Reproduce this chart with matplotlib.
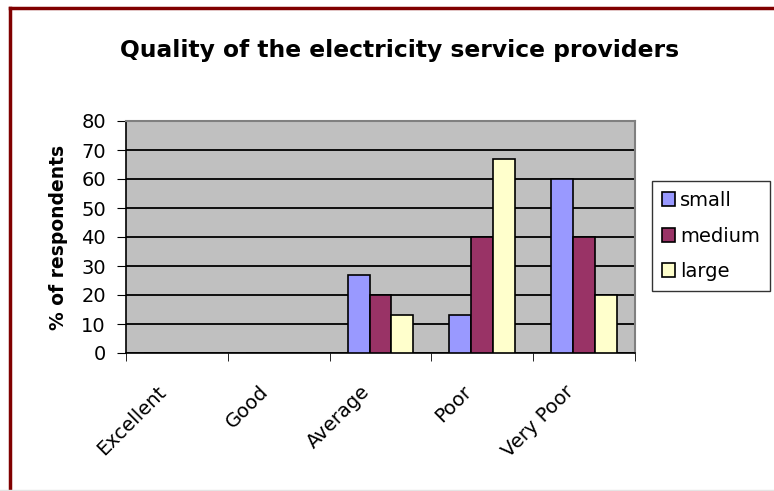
import numpy as np
import matplotlib.pyplot as plt
import matplotlib.transforms as mtransforms
from matplotlib.lines import Line2D

plt.rcParams['font.family'] = ['DejaVu Sans']

# Survey results (% of respondents)
ratings = ["Excellent", "Good", "Average", "Poor", "Very Poor"]
small = [0, 0, 27, 13, 60]
medium = [0, 0, 20, 40, 40]
large = [0, 0, 13, 67, 20]
series_names = ["small", "medium", "large"]
colors = ["#9999FF", "#993366", "#FFFFCC"]

fig = plt.figure(figsize=(7.74, 4.91), dpi=100)
ax = fig.add_axes([126 / 774, 1 - 353 / 491, 509 / 774, 232 / 491])

x = np.arange(len(ratings))
width = 0.215
for i, (vals, name, c) in enumerate(zip([small, medium, large], series_names, colors)):
    ax.bar(x + (i - 1) * width, vals, width, color=c, edgecolor="black",
           linewidth=1.2, label=name, zorder=3)

ax.set_facecolor("#C0C0C0")
ax.set_ylim(0, 80)
ax.set_xlim(-0.5, len(ratings) - 0.5)
ax.set_yticks(np.arange(0, 81, 10))
ax.yaxis.grid(True, color="black", linewidth=1.3, zorder=1)
ax.set_axisbelow(True)

# category labels centred, tick marks on the boundaries
ax.set_xticks(x)
ax.set_xticklabels(ratings, rotation=45, ha="right", rotation_mode="anchor", fontsize=14)
ax.set_xticks(np.arange(-0.5, len(ratings)), minor=True)
ax.tick_params(axis="x", which="major", length=0, pad=21)
ax.tick_params(axis="x", which="minor", length=6, direction="out", color="black")
ax.tick_params(axis="y", length=6.5, direction="out", labelsize=14, color="black", pad=8)
shift = mtransforms.ScaledTranslation(-0.2, 0, fig.dpi_scale_trans)
for lbl in ax.get_xticklabels():
    lbl.set_transform(lbl.get_transform() + shift)

for side in ["top", "right"]:
    ax.spines[side].set_color("#808080")
    ax.spines[side].set_linewidth(1.5)
for side in ["left", "bottom"]:
    ax.spines[side].set_color("black")
    ax.spines[side].set_linewidth(1.2)

fig.text(400 / 774, 1 - 50 / 491, "Quality of the electricity service providers",
         ha="center", va="center", fontsize=16.8, fontweight="bold")
fig.text(58 / 774, 1 - 237 / 491, "% of respondents", rotation=90,
         ha="center", va="center", fontsize=13.5, fontweight="bold")

leg = fig.legend(loc="center left", bbox_to_anchor=(652 / 774, 1 - 236 / 491),
                 fontsize=14, frameon=True, fancybox=False, handlelength=0.7,
                 handleheight=0.7, handletextpad=0.25, labelspacing=0.85,
                 borderpad=0.5, borderaxespad=0)
leg.get_frame().set_edgecolor("black")
leg.get_frame().set_linewidth(1.0)

# dark red outer frame
fig.add_artist(Line2D([10 / 774, 10 / 774], [0, 1 - 8 / 491], color="#800000", linewidth=2.5,
                      transform=fig.transFigure))
fig.add_artist(Line2D([10 / 774, 1], [1 - 8 / 491, 1 - 8 / 491], color="#800000", linewidth=2.5,
                      transform=fig.transFigure))
fig.add_artist(Line2D([0, 1], [1.5 / 491, 1.5 / 491], color="#E4E4E4", linewidth=1.0,
                      transform=fig.transFigure))

fig.savefig("out.png", dpi=100)
